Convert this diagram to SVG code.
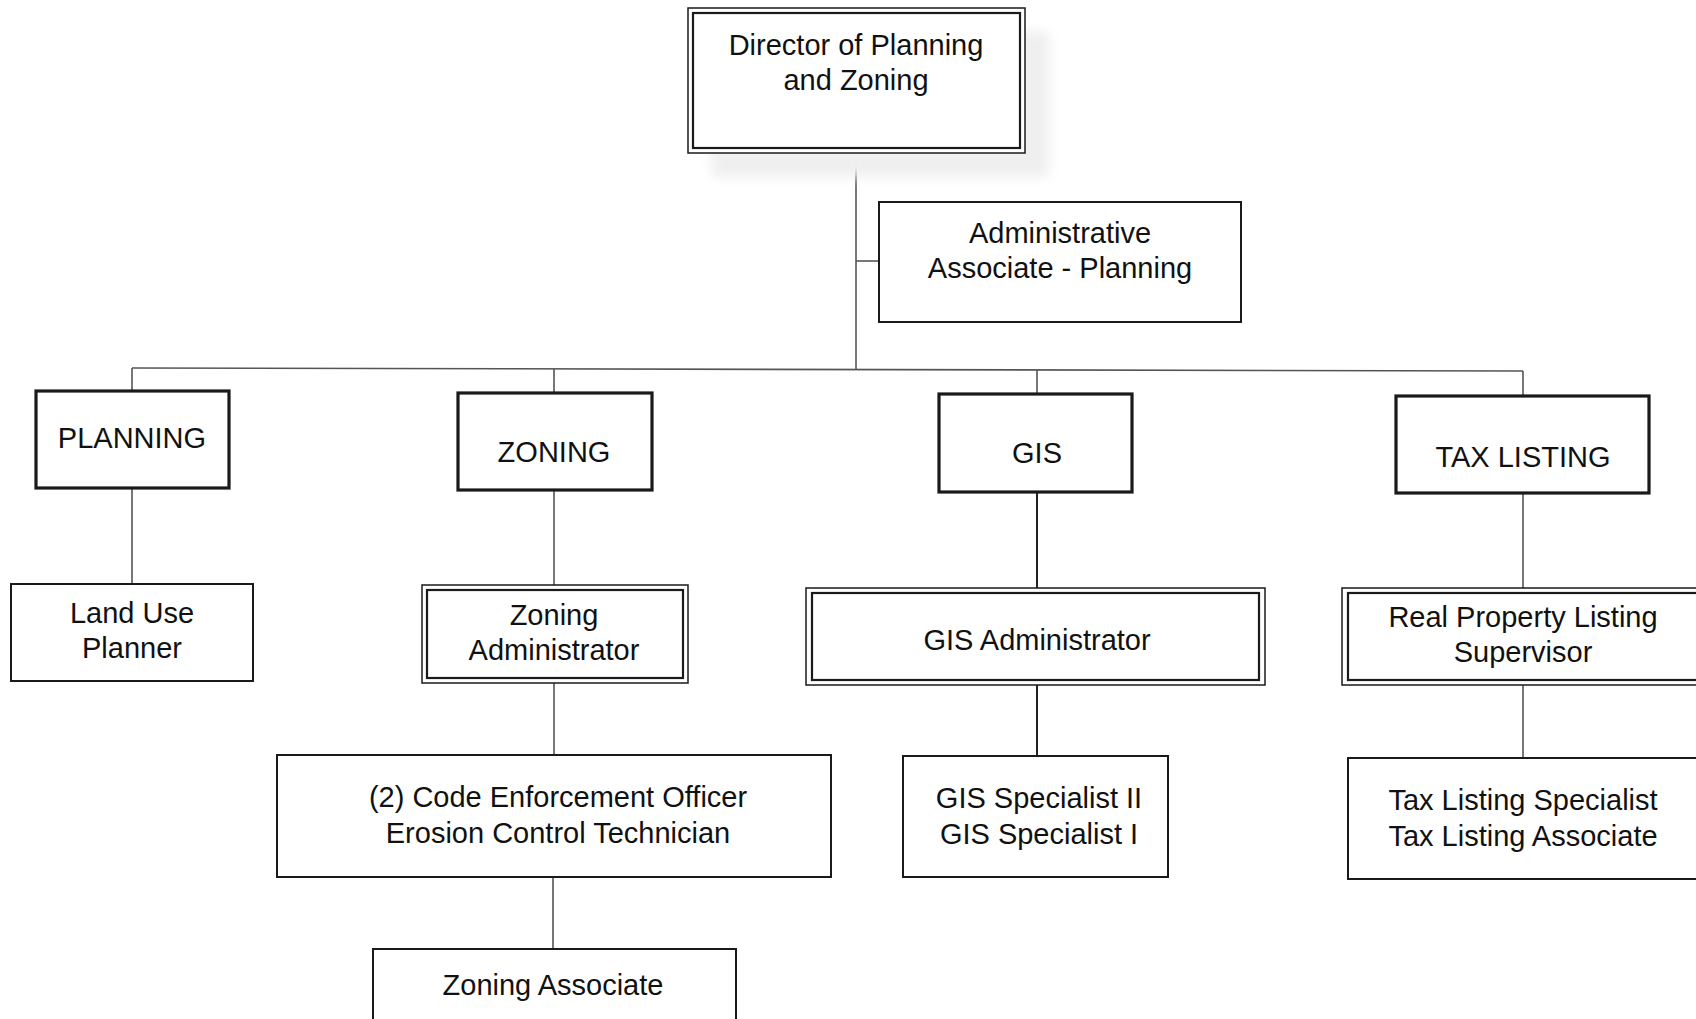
<svg xmlns="http://www.w3.org/2000/svg" width="1696" height="1019" viewBox="0 0 1696 1019">
<style>
.box{fill:#fff;stroke:#1a1a1a;stroke-width:2}
.thick{fill:#fff;stroke:#1a1a1a;stroke-width:3.2}
.outer{fill:#fff;stroke:#1a1a1a;stroke-width:1.5}
.inner{fill:none;stroke:#1a1a1a;stroke-width:2.2}
.t{font-family:"Liberation Sans",Arial,sans-serif;font-size:29px;fill:#111;text-anchor:middle}
.c{fill:none;stroke:#555;stroke-width:1.6}
</style>
<defs>
<filter id="blur" x="-20%" y="-20%" width="140%" height="140%"><feGaussianBlur stdDeviation="6"/></filter>
</defs>
<rect width="1696" height="1019" fill="#fff"/>
<g id="connectors">
<line class="c" x1="856" y1="153" x2="856" y2="369"/>
<line class="c" x1="856" y1="261" x2="879" y2="261"/>
<line class="c" x1="132" y1="368" x2="1523" y2="371"/>
<line class="c" x1="132" y1="368" x2="132" y2="391"/>
<line class="c" x1="554" y1="369" x2="554" y2="393"/>
<line class="c" x1="1037" y1="370" x2="1037" y2="394"/>
<line class="c" x1="1523" y1="371" x2="1523" y2="396"/>
<line class="c" x1="132" y1="488" x2="132" y2="584"/>
<line class="c" x1="554" y1="490" x2="554" y2="585"/>
<line class="c" x1="1037" y1="492" x2="1037" y2="588" style="stroke:#222;stroke-width:2"/>
<line class="c" x1="1523" y1="493" x2="1523" y2="588"/>
<line class="c" x1="554" y1="683" x2="554" y2="755"/>
<line class="c" x1="1037" y1="685" x2="1037" y2="756" style="stroke:#222;stroke-width:2"/>
<line class="c" x1="1523" y1="685" x2="1523" y2="758"/>
<line class="c" x1="553" y1="877" x2="553" y2="949"/>
</g>
<g id="director">
<rect x="712" y="32" width="337" height="145" fill="#efefef" filter="url(#blur)"/>
<rect class="outer" x="688" y="8" width="337" height="145"/>
<rect class="inner" x="693" y="13" width="327" height="135"/>
<text class="t" x="856" y="55">Director of Planning</text>
<text class="t" x="856" y="90">and Zoning</text>
</g>
<g id="admin-associate">
<rect class="box" x="879" y="202" width="362" height="120"/>
<text class="t" x="1060" y="243">Administrative</text>
<text class="t" x="1060" y="278">Associate - Planning</text>
</g>
<g id="planning">
<rect class="thick" x="36" y="391" width="193" height="97"/>
<text class="t" x="132" y="448">PLANNING</text>
</g>
<g id="zoning">
<rect class="thick" x="458" y="393" width="194" height="97"/>
<text class="t" x="554" y="462">ZONING</text>
</g>
<g id="gis">
<rect class="thick" x="939" y="394" width="193" height="98"/>
<text class="t" x="1037" y="463">GIS</text>
</g>
<g id="tax-listing">
<rect class="thick" x="1396" y="396" width="253" height="97"/>
<text class="t" x="1523" y="467">TAX LISTING</text>
</g>
<g id="land-use-planner">
<rect class="box" x="11" y="584" width="242" height="97"/>
<text class="t" x="132" y="623">Land Use</text>
<text class="t" x="132" y="658">Planner</text>
</g>
<g id="zoning-administrator">
<rect class="outer" x="422" y="585" width="266" height="98"/>
<rect class="inner" x="427" y="590" width="256" height="88"/>
<text class="t" x="554" y="625">Zoning</text>
<text class="t" x="554" y="660">Administrator</text>
</g>
<g id="gis-administrator">
<rect class="outer" x="806" y="588" width="459" height="97"/>
<rect class="inner" x="812" y="593" width="447" height="87"/>
<text class="t" x="1037" y="650">GIS Administrator</text>
</g>
<g id="real-property">
<rect class="outer" x="1342" y="588" width="370" height="97"/>
<rect class="inner" x="1348" y="593" width="360" height="87"/>
<text class="t" x="1523" y="627">Real Property Listing</text>
<text class="t" x="1523" y="662">Supervisor</text>
</g>
<g id="code-enforcement">
<rect class="box" x="277" y="755" width="554" height="122"/>
<text class="t" x="558" y="807">(2) Code Enforcement Officer</text>
<text class="t" x="558" y="843">Erosion Control Technician</text>
</g>
<g id="gis-specialist">
<rect class="box" x="903" y="756" width="265" height="121"/>
<text class="t" x="1039" y="808">GIS Specialist II</text>
<text class="t" x="1039" y="844">GIS Specialist I</text>
</g>
<g id="tax-listing-specialist">
<rect class="box" x="1348" y="758" width="360" height="121"/>
<text class="t" x="1523" y="810">Tax Listing Specialist</text>
<text class="t" x="1523" y="846">Tax Listing Associate</text>
</g>
<g id="zoning-associate">
<rect class="box" x="373" y="949" width="363" height="90"/>
<text class="t" x="553" y="995">Zoning Associate</text>
</g>
</svg>
